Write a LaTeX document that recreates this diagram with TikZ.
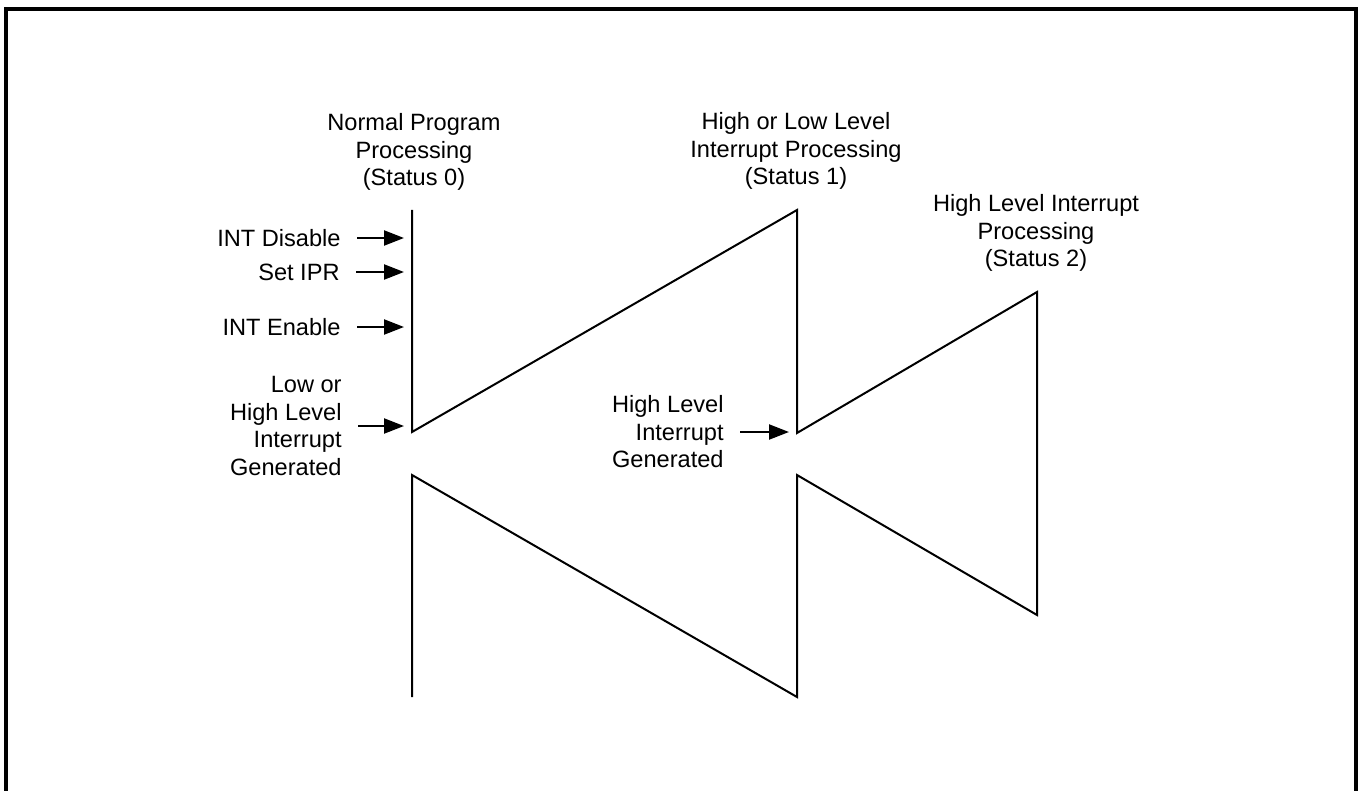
\documentclass[tikz,border=0pt]{standalone}
\usepackage{fontspec}
\setmainfont{Liberation Sans}
\usetikzlibrary{positioning, arrows.meta, calc}

\begin{document}
\begin{tikzpicture}[x=0.5pt, y=-0.5pt,
  lbl/.style={font=\fontsize{11.8}{13.75}\selectfont, inner sep=0pt, align=center},
  side/.style={lbl, align=right, anchor=east},
  sig/.style={line width=1.1pt, -{Triangle[length=10pt, width=7.5pt]}},
  trace/.style={line width=1pt, line join=miter}]
\useasboundingbox (0,0) rectangle (1358,791);
\draw[line width=1.65pt] (6,791) -- (6,9) -- (1356,9) -- (1356,791);
% zigzag corners
\coordinate (z1) at (412,210); \coordinate (z2) at (412,432);
\coordinate (z3) at (797,210); \coordinate (z4) at (797,433);
\coordinate (z5) at (1037,292); \coordinate (z6) at (1037,615);
\coordinate (z7) at (797,475); \coordinate (z8) at (797,697);
\coordinate (z9) at (412,475); \coordinate (z10) at (412,697);
\draw[trace] (z1) -- (z2) -- (z3) -- (z4) -- (z5) -- (z6) -- (z7) -- (z8) -- (z9) -- (z10);
% status headings
\node[lbl] (st0) at (414,152) {Normal Program\\Processing\\(Status 0)};
\node[lbl] (st1) at (796,151) {High or Low Level\\Interrupt Processing\\(Status 1)};
\node[lbl] (st2) at (1036,233) {High Level Interrupt\\Processing\\(Status 2)};
% events
\node[side] (intdis) at (341,238) {INT Disable};
\node[side] (setipr) at (340,272) {Set IPR};
\node[side] (intena) at (341,327) {INT Enable};
\node[side] (lhgen) at (342,426) {Low or\\High Level\\Interrupt\\Generated};
\node[side] (hgen) at (724,432) {High Level\\Interrupt\\Generated};
\foreach \ev/\ln in {intdis/z1, setipr/z1, intena/z1, lhgen/z1, hgen/z3}
  \draw[sig] ($(\ev.east)+(16,0)$) -- ($(\ev.east -| \ln)+(-8,0)$);
\end{tikzpicture}
\end{document}
